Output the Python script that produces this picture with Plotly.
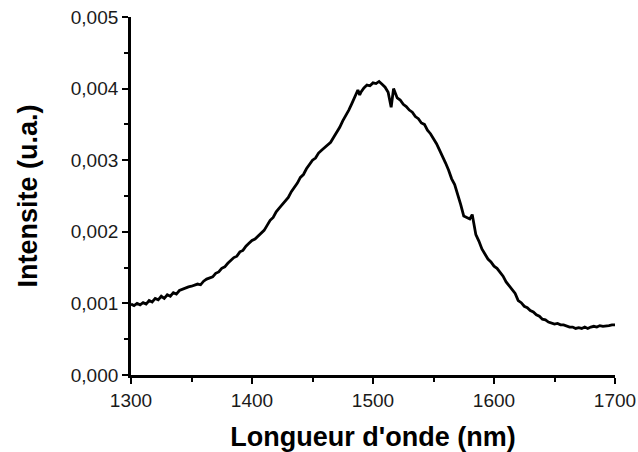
import plotly.graph_objects as go

# Emission spectrum: wavelength (nm) and intensity (arbitrary units)
wavelength = [
    1300, 1302.5, 1305, 1307.5, 1310, 1312.5, 1315, 1317.5, 1320, 1322.5,
    1325, 1327.5, 1330, 1332.5, 1335, 1337.5, 1340, 1342.5, 1345, 1347.5,
    1350, 1352.5, 1355, 1357.5, 1360, 1362.5, 1365, 1367.5, 1370, 1372.5,
    1375, 1377.5, 1380, 1382.5, 1385, 1387.5, 1390, 1392.5, 1395, 1397.5,
    1400, 1402.5, 1405, 1407.5, 1410, 1412.5, 1415, 1417.5, 1420, 1422.5,
    1425, 1427.5, 1430, 1432.5, 1435, 1437.5, 1440, 1442.5, 1445, 1447.5,
    1450, 1452.5, 1455, 1457.5, 1460, 1462.5, 1465, 1467.5, 1470, 1472.5,
    1475, 1477.5, 1480, 1482.5, 1485, 1487.5, 1489, 1490, 1492.5, 1495,
    1497.5, 1500, 1502.5, 1505, 1507.5, 1510, 1512.5, 1515, 1517, 1520,
    1522.5, 1525, 1527.5, 1530, 1532.5, 1535, 1537.5, 1540, 1542.5, 1545,
    1547.5, 1550, 1552.5, 1555, 1557.5, 1560, 1562.5, 1565, 1567.5, 1570,
    1572.5, 1575, 1577.5, 1580, 1582, 1583.5, 1585, 1587.5, 1590, 1592.5,
    1595, 1597.5, 1600, 1602.5, 1605, 1607.5, 1610, 1612.5, 1615, 1617.5,
    1620, 1622.5, 1625, 1627.5, 1630, 1632.5, 1635, 1637.5, 1640, 1642.5,
    1645, 1647.5, 1650, 1652.5, 1655, 1657.5, 1660, 1662.5, 1665, 1667.5,
    1670, 1672.5, 1675, 1677.5, 1680, 1682.5, 1685, 1687.5, 1690, 1692.5,
    1695, 1697.5, 1700,
]

intensity = [
    0.00099, 0.00097, 0.00100, 0.00098, 0.00101, 0.00099, 0.00104, 0.00102, 0.00107, 0.00105,
    0.00110, 0.00107, 0.00112, 0.00110, 0.00115, 0.00113, 0.00118, 0.00120, 0.00121, 0.00123,
    0.00124, 0.00126, 0.00127, 0.00126, 0.00131, 0.00134, 0.00136, 0.00137, 0.00142, 0.00144,
    0.00149, 0.00151, 0.00156, 0.00160, 0.00164, 0.00166, 0.00172, 0.00174, 0.00180, 0.00184,
    0.00188, 0.00190, 0.00194, 0.00197, 0.00202, 0.00209, 0.00216, 0.00220, 0.00228, 0.00233,
    0.00238, 0.00242, 0.00248, 0.00256, 0.00262, 0.00268, 0.00276, 0.00280, 0.00288, 0.00294,
    0.00300, 0.00303, 0.00310, 0.00314, 0.00318, 0.00321, 0.00325, 0.00332, 0.00339, 0.00346,
    0.00355, 0.00362, 0.00370, 0.00379, 0.00388, 0.00398, 0.00391, 0.00395, 0.00401, 0.00405,
    0.00404, 0.00408, 0.00407, 0.00410, 0.00406, 0.00402, 0.00395, 0.00374, 0.00400, 0.00387,
    0.00384, 0.00378, 0.00375, 0.00370, 0.00367, 0.00361, 0.00358, 0.00352, 0.00350, 0.00342,
    0.00337, 0.00330, 0.00323, 0.00314, 0.00306, 0.00296, 0.00286, 0.00274, 0.00266, 0.00253,
    0.00238, 0.00222, 0.00220, 0.00218, 0.00224, 0.00210, 0.00196, 0.00187, 0.00176, 0.00169,
    0.00162, 0.00158, 0.00152, 0.00149, 0.00144, 0.00138, 0.00130, 0.00125, 0.00120, 0.00114,
    0.00104, 0.00101, 0.00096, 0.00094, 0.00090, 0.00088, 0.00084, 0.00082, 0.00078, 0.00077,
    0.00074, 0.00073, 0.00071, 0.00072, 0.00070, 0.00070, 0.00068, 0.00067, 0.00067, 0.00065,
    0.00066, 0.00065, 0.00067, 0.00065, 0.00067, 0.00068, 0.00067, 0.00069, 0.00068, 0.00068,
    0.00069, 0.00070, 0.00070,
]

x_ticks = [1300, 1400, 1500, 1600, 1700]
y_ticks = [0.000, 0.001, 0.002, 0.003, 0.004, 0.005]

fig = go.Figure(
    go.Scatter(
        x=wavelength,
        y=intensity,
        mode="lines",
        line=dict(color="black", width=2.8),
        hoverinfo="skip",
    )
)

axis_common = dict(
    showline=True,
    linecolor="black",
    linewidth=2.8,
    mirror=False,
    showgrid=False,
    zeroline=False,
    automargin=False,
    ticks="outside",
    ticklen=6,
    tickwidth=2.2,
    tickcolor="black",
    tickfont=dict(family="Liberation Sans, Arial, sans-serif", size=19, color="#1a1a1a"),
)

title_font = dict(family="Liberation Sans, Arial, sans-serif", size=27, color="black", weight="bold")

fig.update_xaxes(
    **axis_common,
    range=[1300, 1700],
    tickvals=x_ticks,
    minor=dict(ticks="outside", ticklen=4, tickwidth=2.2, tickcolor="black", dtick=50, tick0=1300),
    title=dict(text="Longueur d'onde (nm)", font=title_font, standoff=22),
)

fig.update_yaxes(
    **axis_common,
    range=[0, 0.005],
    tickvals=y_ticks,
    tickformat=".3f",
    minor=dict(ticks="outside", ticklen=4, tickwidth=2.2, tickcolor="black", dtick=0.0005, tick0=0),
    title=dict(text="Intensite (u.a.)", font=title_font, standoff=26),
)

fig.update_layout(
    width=638,
    height=452,
    margin=dict(l=131, r=23, t=17, b=77, autoexpand=False),
    paper_bgcolor="white",
    plot_bgcolor="white",
    separators=",.",
    showlegend=False,
)

fig.write_html("out.html")
